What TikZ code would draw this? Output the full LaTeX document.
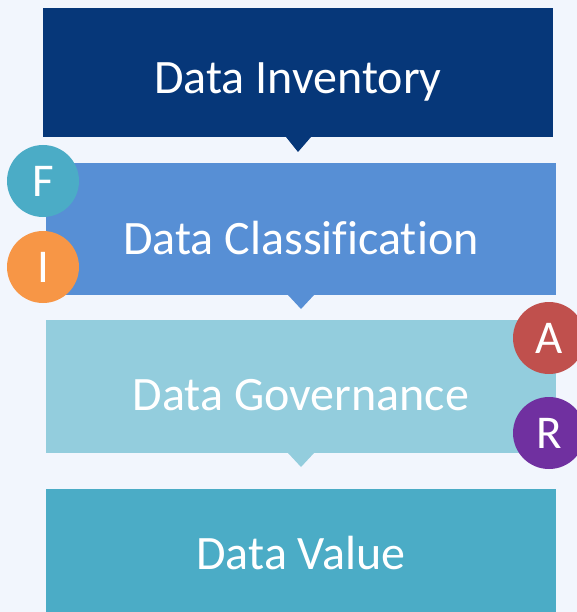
\documentclass[tikz,border=0pt]{standalone}
\usepackage{fontspec}
\setmainfont[Ligatures={NoCommon}]{Carlito}
\definecolor{bgc}{HTML}{F2F6FD}
\definecolor{c1}{HTML}{063779}
\definecolor{c2}{HTML}{578FD5}
\definecolor{c3}{HTML}{93CDDD}
\definecolor{c4}{HTML}{4BACC6}
\definecolor{cF}{HTML}{4BACC6}
\definecolor{cI}{HTML}{F79646}
\definecolor{cA}{HTML}{C0504D}
\definecolor{cR}{HTML}{7030A0}
\begin{document}
\begin{tikzpicture}[x=1pt,y=-1pt,
  stagebox/.style={inner sep=0pt, text=white, font=\fontsize{48}{56}\selectfont},
  badge/.style={circle, minimum size=72pt, inner sep=0pt, text=white, font=\fontsize{47}{52}\selectfont}]
\fill[bgc] (0,0) rectangle (577,612);
\useasboundingbox (0,0) rectangle (577,612);
% boxes
\fill[c1] (43,8) rectangle (553,137);
\fill[c1] (286,137) -- (311,137) -- (298,152) -- cycle;
\fill[c2] (46,163) rectangle (556,295);
\fill[c2] (288,295) -- (314,295) -- (301,309) -- cycle;
\fill[c3] (46,320) rectangle (556,453);
\fill[c3] (288,453) -- (314,453) -- (301,467) -- cycle;
\fill[c4] (46,489) rectangle (556,612);
\node[stagebox] (inv) at (298,82) {Data Inventory};
\node[stagebox] (cls) at (301,238) {Data Classification};
\node[stagebox] (gov) at (301,395) {Data Governance};
\node[stagebox] (val) at (301,553) {Data Value};
% badges
\node[badge, fill=cF] (F) at (43,181) {F};
\node[badge, fill=cI] (I) at (43,267) {I};
\node[badge, fill=cA] (A) at (549,338) {A};
\node[badge, fill=cR] (R) at (549,433) {R};
\end{tikzpicture}
\end{document}
